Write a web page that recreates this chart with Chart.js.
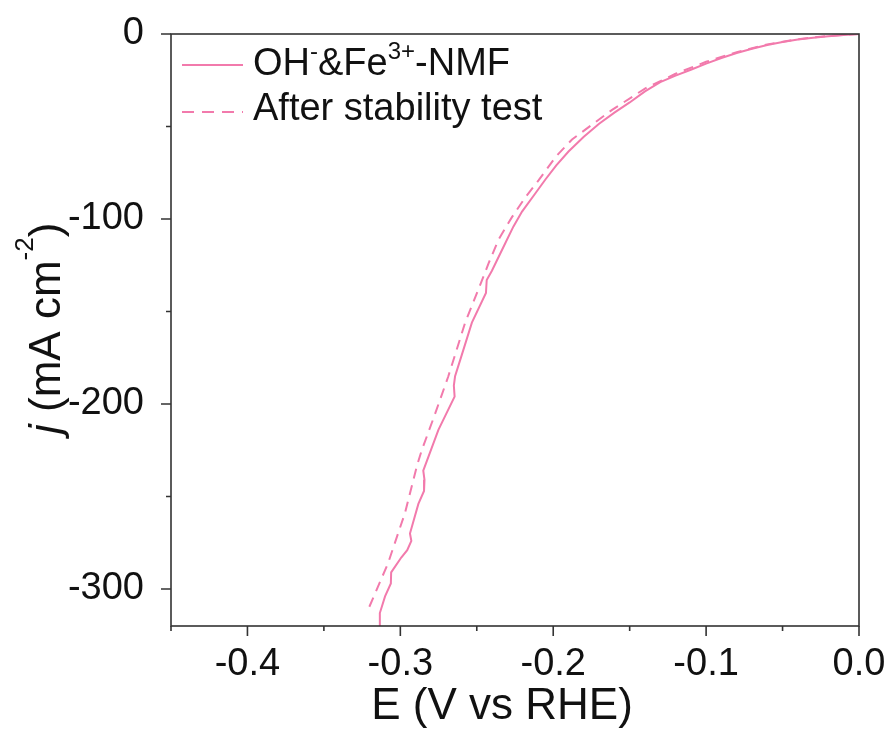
<!DOCTYPE html>
<html>
<head>
<meta charset="utf-8">
<script src="https://cdn.jsdelivr.net/npm/chart.js@4.4.1/dist/chart.umd.min.js"></script>
<style>
  html, body { margin: 0; padding: 0; background: #fff; }
  canvas { display: block; }
</style>
</head>
<body>
<canvas id="lsv" width="889" height="729"></canvas>
<script>
// LSV curves, E (V vs RHE) vs j (mA cm-2)
const eFresh = [0, -0.01, -0.02, -0.03, -0.04, -0.05, -0.06, -0.07, -0.08, -0.09, -0.10, -0.11, -0.12, -0.13, -0.14, -0.15, -0.16, -0.17, -0.18, -0.19, -0.198, -0.205, -0.212, -0.2204, -0.2260, -0.2313, -0.2401, -0.2435, -0.2440, -0.2532, -0.2600, -0.2642, -0.2650, -0.2645, -0.2751, -0.2850, -0.2842, -0.2845, -0.2882, -0.2937, -0.2928, -0.2955, -0.2994, -0.3060, -0.3062, -0.3100, -0.3134, -0.3134];
const jFresh = [0, -0.5, -1.2, -2.0, -3.0, -4.3, -6.0, -8.0, -10.3, -13.0, -16.0, -19.3, -22.5, -26.0, -31.0, -37.0, -42.5, -48.5, -55.5, -63.5, -71.0, -78.5, -86.5, -96.0, -104, -113, -128, -133, -140, -156, -174, -185, -190, -196, -214, -236, -241, -247, -254, -270, -274, -279, -283, -291, -297, -304, -313, -320];

const eAfter = [0, -0.02, -0.04, -0.06, -0.08, -0.10, -0.12, -0.14, -0.1615, -0.1746, -0.1877, -0.198, -0.2095, -0.218, -0.227, -0.2357, -0.2423, -0.247, -0.2576, -0.2686, -0.278, -0.286, -0.289, -0.297, -0.308, -0.321];
const jAfter = [0, -1.0, -2.8, -5.6, -9.8, -15.0, -21.5, -29.5, -41, -49, -57, -66, -79, -88, -99, -111, -124, -134, -156, -185, -207, -225, -233, -259, -286, -311];

const xTicks = [-0.4, -0.3, -0.2, -0.1, 0.0];
const xMinor = [-0.45, -0.35, -0.25, -0.15, -0.05];
const yTicks = [0, -100, -200, -300];
const yMinor = [-50, -150, -250];

const pink = '#f27aac';
const FONT = '"Liberation Sans", Arial, sans-serif';

const toPoints = (xs, ys) => xs.map((x, i) => ({ x: x, y: ys[i] }));

// frame, ticks, axis titles and legend drawn by hand
const decorations = {
    id: 'decorations',
    afterDraw(chart) {
        const { ctx, chartArea: a, scales: { x, y } } = chart;
        ctx.save();
        ctx.strokeStyle = '#333';
        ctx.lineWidth = 1.6;
        ctx.strokeRect(a.left, a.top, a.right - a.left, a.bottom - a.top);

        ctx.beginPath();
        xTicks.forEach(v => { const p = x.getPixelForValue(v); ctx.moveTo(p, a.bottom); ctx.lineTo(p, a.bottom + 10); });
        xMinor.forEach(v => { const p = x.getPixelForValue(v); ctx.moveTo(p, a.bottom); ctx.lineTo(p, a.bottom + 5); });
        yTicks.forEach(v => { const p = y.getPixelForValue(v); ctx.moveTo(a.left, p); ctx.lineTo(a.left - 10, p); });
        yMinor.forEach(v => { const p = y.getPixelForValue(v); ctx.moveTo(a.left, p); ctx.lineTo(a.left - 5, p); });
        ctx.stroke();

        ctx.fillStyle = '#111';
        ctx.textBaseline = 'alphabetic';

        // x title
        ctx.font = '44px ' + FONT;
        ctx.textAlign = 'center';
        ctx.fillText('E (V vs RHE)', 502, 719);

        // y title, rotated
        ctx.save();
        ctx.translate(60, 434);
        ctx.rotate(-Math.PI / 2);
        ctx.textAlign = 'left';
        let cx = 0;
        ctx.font = 'italic 44px ' + FONT;
        ctx.fillText('j', cx, 0); cx += ctx.measureText('j ').width;
        ctx.font = '44px ' + FONT;
        ctx.fillText('(mA cm', cx, 0); cx += ctx.measureText('(mA cm').width;
        ctx.font = '26px ' + FONT;
        ctx.fillText('-2', cx, -27); cx += ctx.measureText('-2').width;
        ctx.font = '44px ' + FONT;
        ctx.fillText(')', cx, 0);
        ctx.restore();

        // legend
        ctx.strokeStyle = pink;
        ctx.lineWidth = 2;
        ctx.beginPath(); ctx.moveTo(182, 65); ctx.lineTo(243, 65); ctx.stroke();
        ctx.setLineDash([12, 8]);
        ctx.beginPath(); ctx.moveTo(182, 112); ctx.lineTo(243, 112); ctx.stroke();
        ctx.setLineDash([]);

        ctx.textAlign = 'left';
        const parts = [['OH', 0], ['-', 1], ['&Fe', 0], ['3+', 1], ['-NMF', 0]];
        let lx = 253;
        parts.forEach(([t, sup]) => {
            ctx.font = (sup ? '24px ' : '38px ') + FONT;
            ctx.fillText(t, lx, sup ? 59 : 75);
            lx += ctx.measureText(t).width;
        });
        ctx.font = '38px ' + FONT;
        ctx.fillText('After stability test', 253, 120);
        ctx.restore();
    }
};

new Chart(document.getElementById('lsv').getContext('2d'), {
    type: 'line',
    data: {
        datasets: [
            { label: 'OH-&Fe3+-NMF', data: toPoints(eFresh, jFresh), borderColor: pink, borderWidth: 2, pointRadius: 0, tension: 0 },
            { label: 'After stability test', data: toPoints(eAfter, jAfter), borderColor: pink, borderWidth: 2, borderDash: [10, 7], pointRadius: 0, tension: 0 }
        ]
    },
    options: {
        responsive: false,
        animation: false,
        devicePixelRatio: 1,
        layout: { padding: { top: 34, right: 30, left: 0, bottom: 0 } },
        plugins: { legend: { display: false }, tooltip: { enabled: false } },
        scales: {
            x: {
                type: 'linear', min: -0.45, max: 0,
                afterFit: s => { s.height = 103; s.paddingLeft = 0; s.paddingRight = 0; },
                afterBuildTicks: s => { s.ticks = xTicks.map(v => ({ value: v })); },
                grid: { display: false }, border: { display: false },
                ticks: { color: '#111', font: { size: 38, family: FONT }, padding: 8, maxRotation: 0, autoSkip: false,
                    callback: v => v.toFixed(1) }
            },
            y: {
                type: 'linear', min: -320, max: 0,
                afterFit: s => { s.width = 171; s.paddingTop = 0; s.paddingBottom = 0; },
                afterBuildTicks: s => { s.ticks = yTicks.map(v => ({ value: v })); },
                grid: { display: false }, border: { display: false },
                ticks: { color: '#111', font: { size: 38, family: FONT }, padding: 19, autoSkip: false,
                    callback: v => String(v) }
            }
        }
    },
    plugins: [decorations]
});
</script>
</body>
</html>
